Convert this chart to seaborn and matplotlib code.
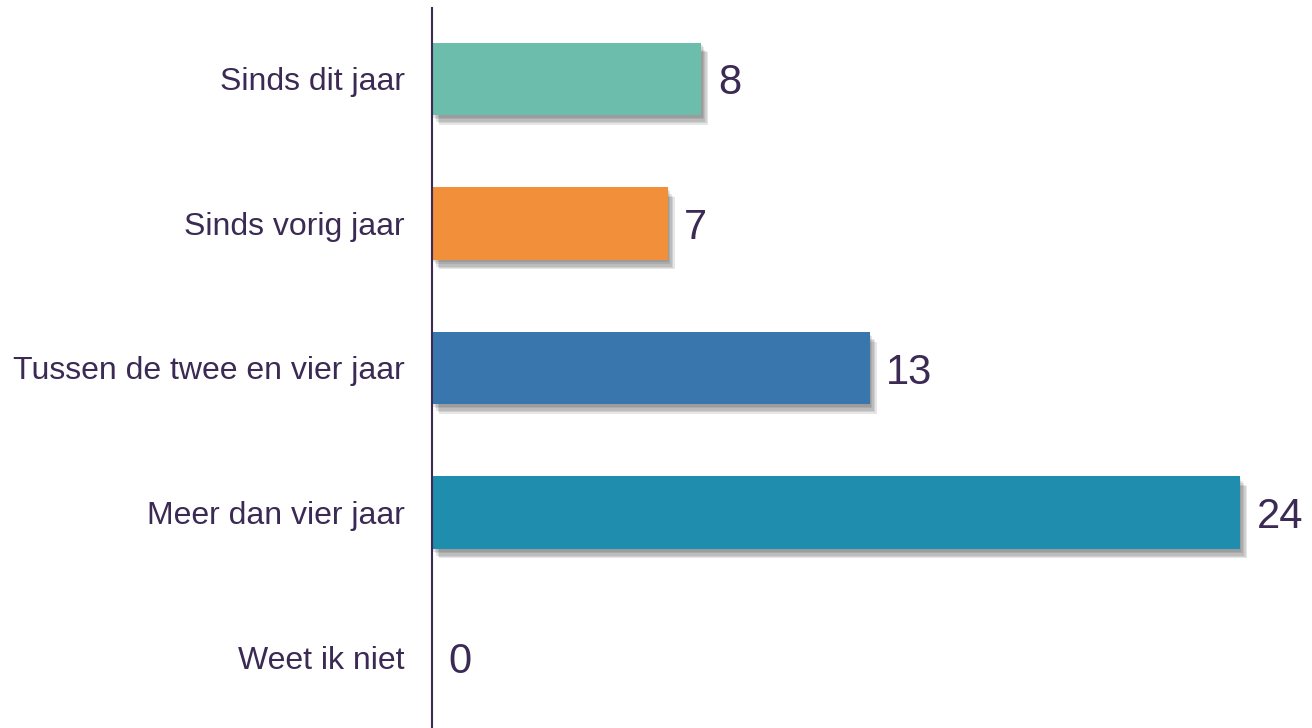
import pandas as pd
from matplotlib import pyplot as plt
import matplotlib.patheffects as pe
import seaborn as sns

# Data
categorieen = ['Sinds dit jaar', 'Sinds vorig jaar', 'Tussen de twee en vier jaar',
               'Meer dan vier jaar', 'Weet ik niet']
aantallen = [8, 7, 13, 24, 0]
kleuren = ['#6DBDAC', '#F18F3B', '#3A76AE', '#1F8DAD', '#1F8DAD']

df = pd.DataFrame({'Categorie': categorieen, 'Aantal': aantallen})

sns.set_theme(style='white')
plt.rcParams['font.family'] = ['Liberation Sans', 'DejaVu Sans']
tekst = '#3B2A54'

fig = plt.figure(figsize=(13.12, 7.28), dpi=100)
ax = fig.add_axes([432 / 1312, 0, 1 - 432 / 1312, 1 - 8 / 728])

sns.barplot(data=df, x='Aantal', y='Categorie', hue='Categorie',
            palette=kleuren, legend=False, width=0.5, saturation=1,
            linewidth=0, ax=ax)

# zachte schaduw onder de balken
schaduw = [pe.SimplePatchShadow(offset=(dx, -dy), shadow_rgbFace='#333333', alpha=0.12)
           for dx, dy in [(1, 2), (2, 3), (3, 5), (4, 6), (5, 7)]]
for bar in ax.patches:
    bar.set_path_effects(schaduw + [pe.Normal()])

for c in ax.containers:
    for t in ax.bar_label(c, padding=12, fontsize=30, color=tekst):
        t.set_y(t.get_position()[1])
        t.set_va('center_baseline')

ax.set_xlim(0, 26.14)
ax.set_ylim(4.49, -0.49)
ax.set_xlabel('')
ax.set_ylabel('')
ax.set_xticks([])
ax.tick_params(axis='y', length=0, pad=19.5, labelsize=23, labelcolor=tekst)

for s in ['top', 'right', 'bottom']:
    ax.spines[s].set_visible(False)
ax.spines['left'].set_color(tekst)
ax.spines['left'].set_linewidth(1.5)

fig.savefig('out.png', dpi=100)
